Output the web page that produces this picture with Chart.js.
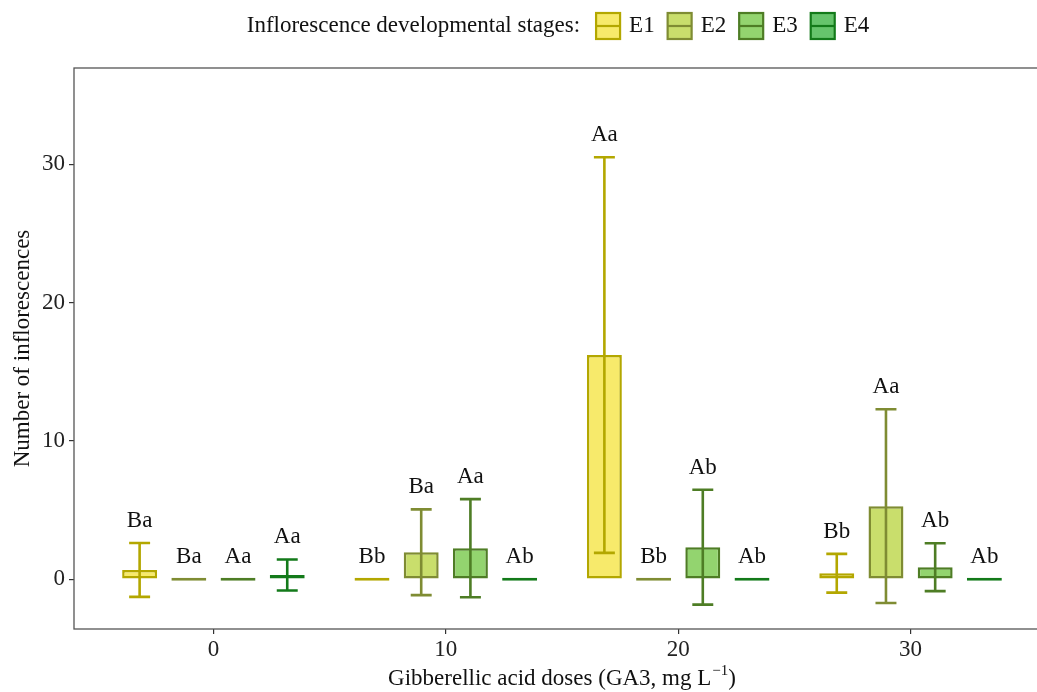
<!DOCTYPE html>
<html>
<head>
<meta charset="utf-8">
<script src="https://cdn.jsdelivr.net/npm/chart.js@4.4.1/dist/chart.umd.min.js"></script>
<style>
  html, body { margin: 0; padding: 0; overflow: hidden; background: #fff; }
  canvas { display: block; }
</style>
</head>
<body>
<canvas id="chart" width="1056" height="692"></canvas>
<script>
// ===== DATA =====
const doses = [0, 10, 20, 30];
const stages = ['E1', 'E2', 'E3', 'E4'];

const meanE1 = [0.67, 0, 16.2, 0.43];
const sdE1   = [1.95, 0, 14.3, 1.4];
const meanE2 = [0, 1.95, 0, 5.28];
const sdE2   = [0, 3.1, 0, 7.0];
const meanE3 = [0, 2.24, 2.31, 0.87];
const sdE3   = [0, 3.55, 4.15, 1.73];
const meanE4 = [0.3, 0, 0, 0];
const sdE4   = [1.12, 0, 0, 0];

const lettersE1 = ['Ba', 'Bb', 'Aa', 'Bb'];
const lettersE2 = ['Ba', 'Ba', 'Bb', 'Aa'];
const lettersE3 = ['Aa', 'Aa', 'Ab', 'Ab'];
const lettersE4 = ['Aa', 'Ab', 'Ab', 'Ab'];

const yTicks = [0, 10, 20, 30];

const legendTitle = 'Inflorescence developmental stages:';
const xTitle = 'Gibberellic acid doses (GA3, mg L';
const xTitleSup = '\u22121';
const yTitle = 'Number of inflorescences';

// ===== STYLE =====
const fills   = ['#f7ea6b', '#c9de6c', '#93d46f', '#66c46c'];
const borders = ['#b3a700', '#7f8c33', '#4e7d25', '#137a1a'];
const FONT = '"Liberation Serif", "Times New Roman", serif';
const FS = 23;

const means = [meanE1, meanE2, meanE3, meanE4];
const sds = [sdE1, sdE2, sdE3, sdE4];
const letters = [lettersE1, lettersE2, lettersE3, lettersE4];

const datasets = stages.map((s, k) => ({
  label: s,
  data: doses.map((d, i) => ({ x: d, y: means[k][i] })),
  sd: sds[k],
  letters: letters[k],
  backgroundColor: fills[k],
  borderColor: borders[k],
  borderWidth: 2.5,
  borderSkipped: false,
  minBarLength: 3,
  barPercentage: 0.71,
  categoryPercentage: 0.847
}));

// ===== PLUGINS =====
const panelFrame = {
  id: 'panelFrame',
  afterDraw(chart) {
    const { ctx, chartArea: a } = chart;
    ctx.save();
    ctx.strokeStyle = '#555';
    ctx.lineWidth = 1.3;
    ctx.strokeRect(a.left, a.top, a.right - a.left, a.bottom - a.top);
    ctx.restore();
  }
};

const errorBars = {
  id: 'errorBars',
  afterDatasetsDraw(chart) {
    const ctx = chart.ctx;
    const y = chart.scales.y;
    chart.data.datasets.forEach((ds, di) => {
      const meta = chart.getDatasetMeta(di);
      meta.data.forEach((bar, i) => {
        const m = ds.data[i].y, sd = ds.sd[i];
        ctx.save();
        if (sd > 0) {
          const hi = y.getPixelForValue(m + sd);
          const lo = y.getPixelForValue(m - sd);
          const half = bar.width * 0.3;
          ctx.strokeStyle = ds.borderColor;
          ctx.lineWidth = 2.6;
          ctx.beginPath();
          ctx.moveTo(bar.x, hi); ctx.lineTo(bar.x, lo);
          ctx.moveTo(bar.x - half, hi); ctx.lineTo(bar.x + half, hi);
          ctx.moveTo(bar.x - half, lo); ctx.lineTo(bar.x + half, lo);
          ctx.stroke();
        }
        // significance letters
        ctx.fillStyle = '#111';
        ctx.font = FS + 'px ' + FONT;
        ctx.textAlign = 'center';
        ctx.textBaseline = 'middle';
        ctx.fillText(ds.letters[i], bar.x, y.getPixelForValue(m + sd + 1.6));
        ctx.restore();
      });
    });
  }
};

const titlesAndLegend = {
  id: 'titlesAndLegend',
  afterDraw(chart) {
    const { ctx, chartArea: a } = chart;
    const cx = (a.left + a.right) / 2;
    ctx.save();
    ctx.fillStyle = '#111';
    ctx.textBaseline = 'middle';

    // x title with superscript
    ctx.font = FS + 'px ' + FONT;
    const w1 = ctx.measureText(xTitle).width;
    ctx.font = '15px ' + FONT;
    const w2 = ctx.measureText(xTitleSup).width;
    ctx.font = FS + 'px ' + FONT;
    const w3 = ctx.measureText(')').width;
    let x0 = cx - (w1 + w2 + w3 + 1) / 2;
    const ty = 679;
    ctx.textAlign = 'left';
    ctx.fillText(xTitle, x0, ty);
    ctx.font = '15px ' + FONT;
    ctx.fillText(xTitleSup, x0 + w1 + 1, ty - 8);
    ctx.font = FS + 'px ' + FONT;
    ctx.fillText(')', x0 + w1 + w2 + 1, ty);

    // y title
    ctx.save();
    ctx.translate(23, (a.top + a.bottom) / 2);
    ctx.rotate(-Math.PI / 2);
    ctx.textAlign = 'center';
    ctx.fillText(yTitle, 0, 0);
    ctx.restore();

    // legend
    const boxW = 24, boxH = 26, gapTitle = 16, gapBox = 9, gapItem = 13;
    const tw = ctx.measureText(legendTitle).width;
    const lw = stages.map(s => ctx.measureText(s).width);
    let total = tw + gapTitle;
    lw.forEach(w => { total += boxW + gapBox + w + gapItem; });
    total -= gapItem;
    let lx = cx - total / 2 - 4;
    const ly = 26;
    ctx.textAlign = 'left';
    ctx.fillText(legendTitle, lx, ly);
    lx += tw + gapTitle;
    stages.forEach((s, k) => {
      ctx.fillStyle = fills[k];
      ctx.fillRect(lx, ly - boxH / 2, boxW, boxH);
      ctx.strokeStyle = borders[k];
      ctx.lineWidth = 2.2;
      ctx.strokeRect(lx, ly - boxH / 2, boxW, boxH);
      ctx.beginPath();
      ctx.moveTo(lx, ly); ctx.lineTo(lx + boxW, ly);
      ctx.stroke();
      ctx.fillStyle = '#111';
      lx += boxW + gapBox;
      ctx.fillText(s, lx, ly);
      lx += lw[k] + gapItem;
    });
    ctx.restore();
  }
};

// ===== CHART =====
new Chart(document.getElementById('chart'), {
  type: 'bar',
  data: { datasets: datasets },
  options: {
    responsive: false,
    animation: false,
    devicePixelRatio: 1,
    layout: { padding: { top: 68, right: 6, left: 0, bottom: 0 } },
    plugins: { legend: { display: false }, tooltip: { enabled: false } },
    scales: {
      x: {
        type: 'linear',
        min: -6,
        max: 36,
        offset: false,
        afterBuildTicks: s => { s.ticks = doses.map(v => ({ value: v })); },
        afterFit: s => { s.height = 63; },
        grid: { display: true, offset: false, drawOnChartArea: false, drawTicks: true, tickLength: 5, color: '#333', lineWidth: 1.2 },
        border: { display: false },
        ticks: { color: '#222', padding: 2, font: { family: FONT, size: FS }, maxRotation: 0 }
      },
      y: {
        min: -3.6,
        max: 36.95,
        afterBuildTicks: s => { s.ticks = yTicks.map(v => ({ value: v })); },
        afterFit: s => { s.width = 74; },
        grid: { display: true, drawOnChartArea: false, drawTicks: true, tickLength: 5, color: '#333', lineWidth: 1.2 },
        border: { display: false },
        ticks: { color: '#222', padding: 4, font: { family: FONT, size: FS } }
      }
    }
  },
  plugins: [errorBars, panelFrame, titlesAndLegend]
});
</script>
</body>
</html>
